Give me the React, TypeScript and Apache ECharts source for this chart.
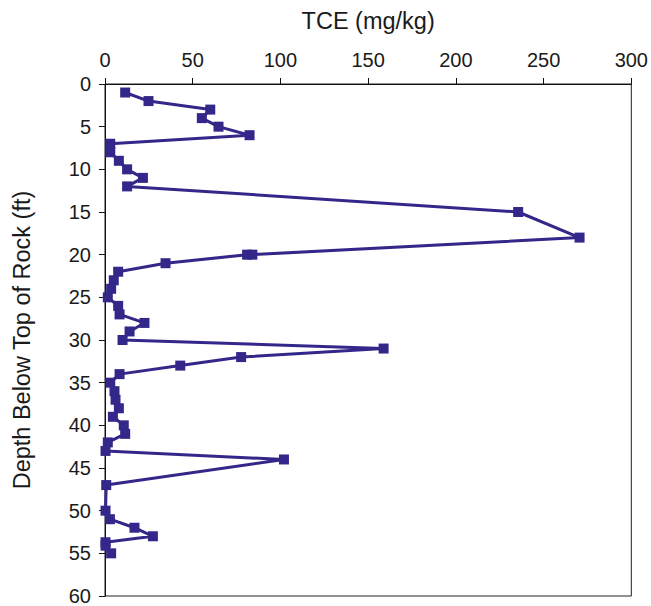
import React, { useEffect, useRef } from "react";
import * as echarts from "echarts";

const depths: number[] = [
  1, 2, 3, 4, 5, 6, 7, 8, 9, 10, 11, 12, 15, 18, 20, 20, 21, 22, 23, 24, 25, 26,
  27, 28, 29, 30, 31, 32, 33, 34, 35, 36, 37, 38, 39, 40, 41, 42, 43, 44, 47,
  50, 51, 52, 53, 53.7, 54.1, 55,
];
const tce: number[] = [
  11.5, 24.8, 60, 55.2, 64.7, 82.4, 3, 3, 7.9, 12.6, 21.6, 12.6, 235.5, 270.5,
  84, 81, 34.5, 7.5, 5, 3.5, 1.6, 7.5, 8.3, 22.5, 14, 10, 158.8, 77.6, 42.9,
  8.3, 3, 5.4, 6, 7.9, 4.5, 10.7, 11.5, 1.6, 0.3, 102, 0.7, 0.3, 2.8, 16.8,
  27.3, 0.3, 0.3, 3.5,
];
const xTitle = "TCE (mg/kg)";
const yTitle = "Depth Below Top of Rock (ft)";

export default function App() {
  const ref = useRef<HTMLDivElement>(null);
  useEffect(() => {
    if (!ref.current) return;
    const chart = echarts.init(ref.current, null, { renderer: "svg" });
    const font = "'Liberation Sans', Arial, Helvetica, sans-serif";
    const data = depths.map((d, i) => [tce[i], d]);
    chart.setOption({
      animation: false,
      backgroundColor: "#ffffff",
      grid: {
        left: 105,
        top: 84,
        width: 527,
        height: 516,
        show: true,
        borderColor: "#222",
        borderWidth: 1,
        backgroundColor: "transparent",
      },
      xAxis: {
        type: "value",
        position: "top",
        min: 0,
        max: 300,
        interval: 50,
        name: xTitle,
        nameLocation: "middle",
        nameGap: 51,
        nameTextStyle: { fontFamily: font, fontSize: 23.5, color: "#1a1a1a" },
        axisLine: { show: true, lineStyle: { color: "#111", width: 1 } },
        axisTick: { show: true, length: 6, lineStyle: { color: "#111" } },
        axisLabel: { fontFamily: font, fontSize: 20, color: "#1a1a1a", margin: 14 },
        splitLine: { show: false },
      },
      yAxis: {
        type: "value",
        inverse: true,
        min: 0,
        max: 60,
        interval: 5,
        name: yTitle,
        nameLocation: "middle",
        nameGap: 71,
        nameRotate: 90,
        nameTextStyle: { fontFamily: font, fontSize: 23.5, color: "#1a1a1a" },
        axisLine: { show: true, lineStyle: { color: "#111", width: 1 } },
        axisTick: { show: true, length: 6, lineStyle: { color: "#111" } },
        axisLabel: { fontFamily: font, fontSize: 20, color: "#1a1a1a", margin: 14 },
        splitLine: { show: false },
      },
      series: [
        {
          type: "line",
          data,
          symbol: "rect",
          symbolSize: 10,
          showAllSymbol: true,
          lineStyle: { color: "#33278a", width: 3 },
          itemStyle: { color: "#33278a" },
        },
      ],
    });
    return () => chart.dispose();
  }, []);
  return (
    <div
      ref={ref}
      style={{ position: "fixed", left: 0, top: 0, width: 651, height: 606, background: "#fff" }}
    />
  );
}
